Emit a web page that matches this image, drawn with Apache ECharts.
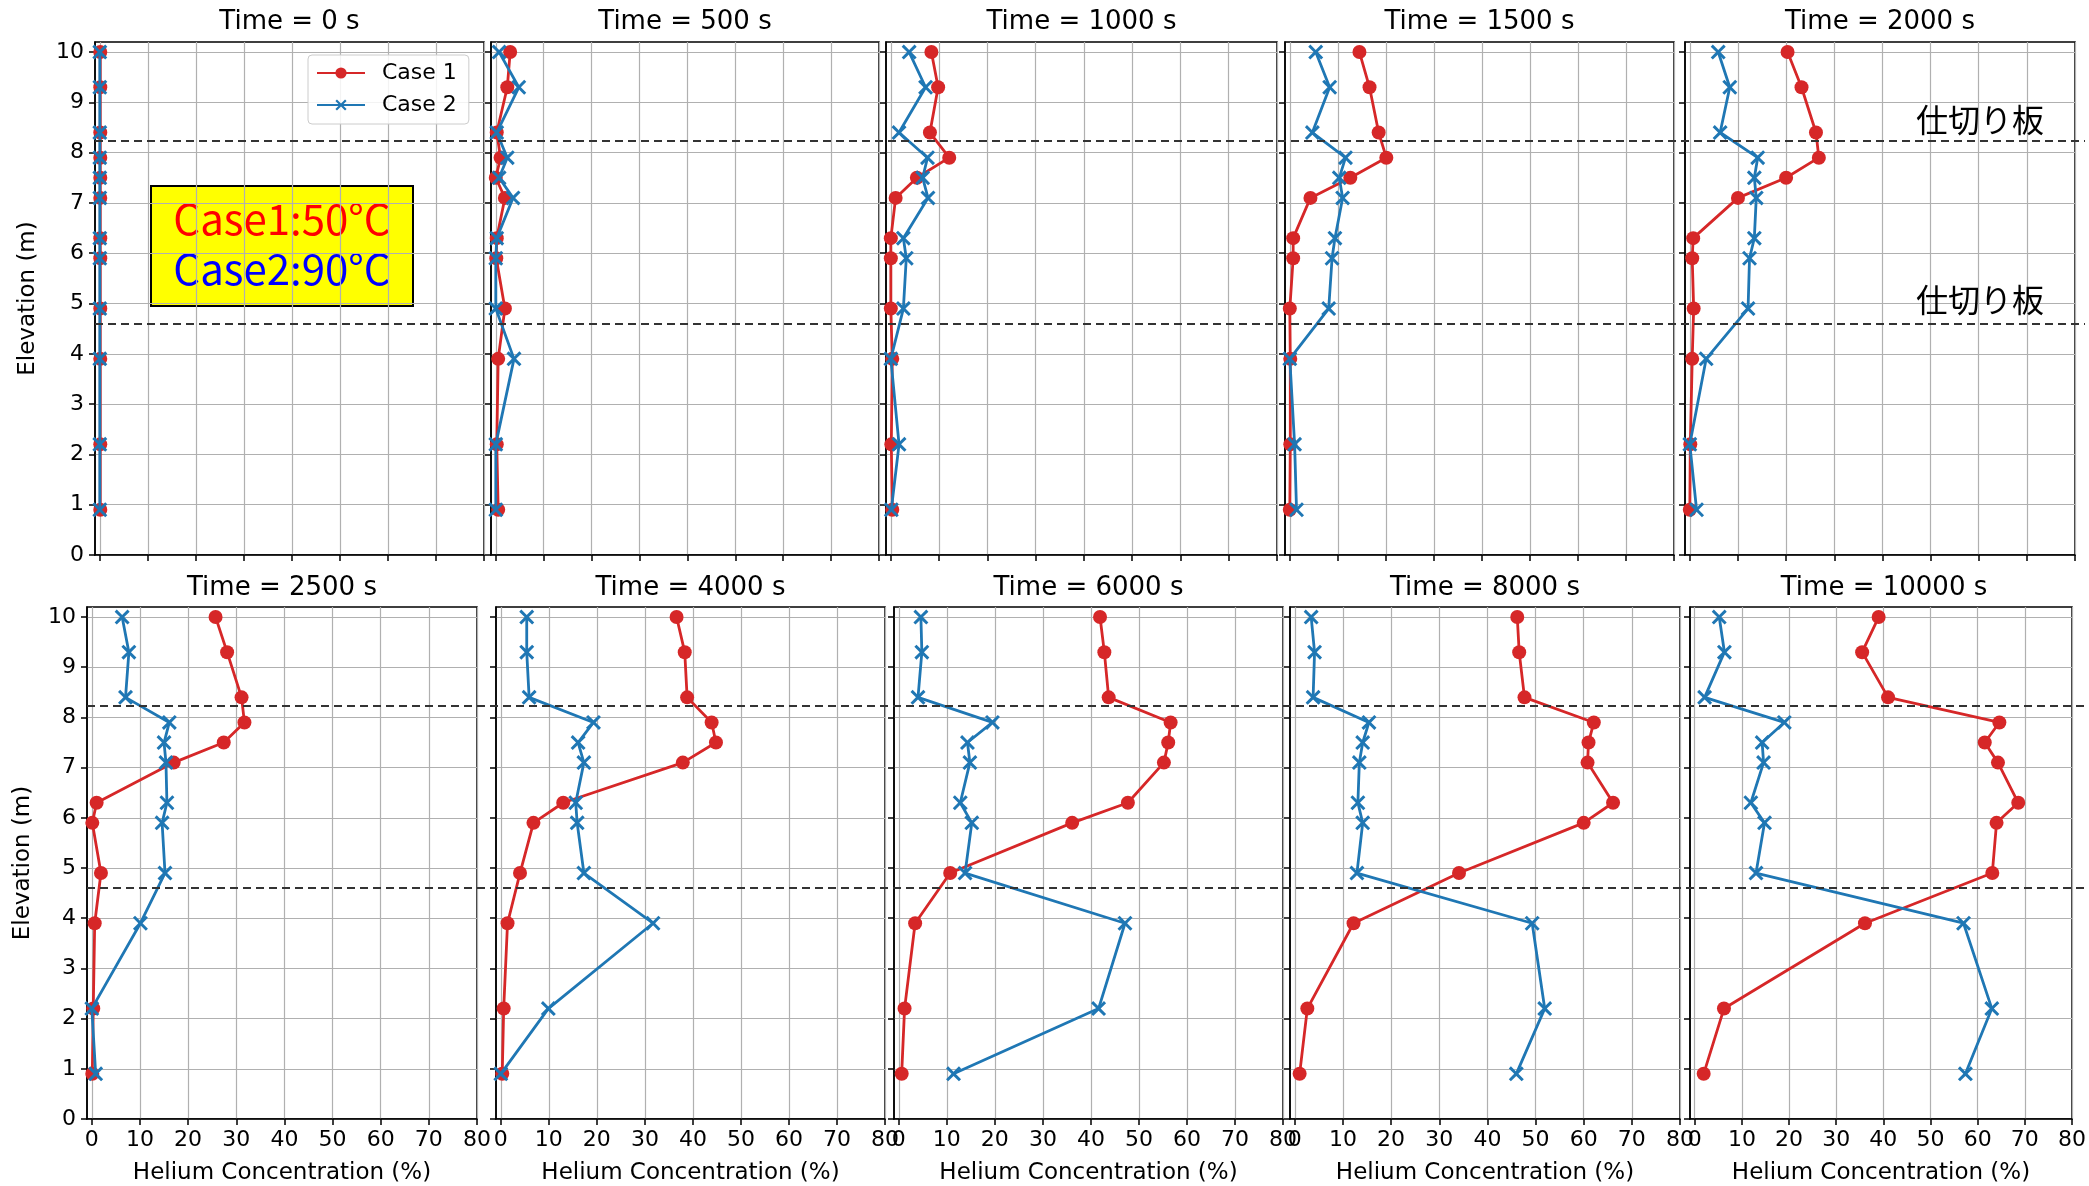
<!DOCTYPE html>
<html>
<head>
<meta charset="utf-8">
<script src="https://cdn.jsdelivr.net/npm/echarts@6/dist/echarts.min.js"></script>
<style>
  html, body { margin: 0; padding: 0; background: #ffffff; }
  #chart { width: 2089px; height: 1186px; }
</style>
</head>
<body>
<div id="chart"></div>
<script>
// Sensor elevations (m), top to bottom
const elevations = [10.0, 9.3, 8.4, 7.9, 7.5, 7.1, 6.3, 5.9, 4.9, 3.9, 2.2, 0.9];
// Elevations of the partition plates (m)
const partitionElevations = [8.24, 4.6];
// Snapshot times (s)
const times = [0, 500, 1000, 1500, 2000, 2500, 4000, 6000, 8000, 10000];
const xTicks = [0, 10, 20, 30, 40, 50, 60, 70, 80];
const yTicks = [0, 1, 2, 3, 4, 5, 6, 7, 8, 9, 10];

// Helium concentration (%) — Case 1 (50°C)
const case1_t0     = [0.1, 0.1, 0.1, 0.1, 0.1, 0.1, 0.1, 0.1, 0.1, 0.1, 0.1, 0.1];
const case1_t500   = [3.0, 2.4, 0.2, 1.0, 0.0, 1.9, 0.2, 0.1, 1.9, 0.5, 0.2, 0.5];
const case1_t1000  = [8.4, 9.8, 8.1, 12.1, 5.4, 1.0, 0.0, 0.0, 0.0, 0.3, 0.1, 0.3];
const case1_t1500  = [14.5, 16.6, 18.5, 20.1, 12.6, 4.3, 0.7, 0.7, 0.0, 0.1, 0.1, 0.0];
const case1_t2000  = [20.3, 23.2, 26.2, 26.8, 20.0, 10.0, 0.7, 0.5, 0.8, 0.5, 0.1, 0.0];
const case1_t2500  = [25.7, 28.1, 31.1, 31.7, 27.4, 17.0, 1.0, 0.1, 1.9, 0.6, 0.3, 0.1];
const case1_t4000  = [36.6, 38.3, 38.8, 43.9, 44.8, 37.9, 13.0, 6.8, 4.0, 1.4, 0.6, 0.3];
const case1_t6000  = [41.9, 42.8, 43.7, 56.6, 56.1, 55.2, 47.7, 36.1, 10.7, 3.4, 1.2, 0.6];
const case1_t8000  = [46.2, 46.6, 47.7, 62.1, 61.0, 60.8, 66.1, 60.0, 34.1, 12.2, 2.6, 1.0];
const case1_t10000 = [39.0, 35.5, 41.0, 64.6, 61.5, 64.3, 68.6, 64.0, 63.1, 36.1, 6.2, 1.9];

// Helium concentration (%) — Case 2 (90°C)
const case2_t0     = [0.0, 0.0, 0.0, 0.0, 0.0, 0.0, 0.0, 0.0, 0.0, 0.0, 0.0, 0.0];
const case2_t500   = [0.7, 4.8, 0.2, 2.4, 0.7, 3.6, 0.2, 0.0, 0.0, 3.8, 0.0, 0.0];
const case2_t1000  = [3.8, 7.2, 1.7, 7.6, 6.6, 7.7, 2.6, 3.2, 2.6, 0.0, 1.7, 0.1];
const case2_t1500  = [5.4, 8.3, 4.7, 11.6, 10.3, 11.0, 9.4, 8.8, 8.1, 0.0, 1.0, 1.4];
const case2_t2000  = [5.9, 8.3, 6.3, 14.1, 13.4, 13.8, 13.4, 12.4, 12.1, 3.4, 0.0, 1.4];
const case2_t2500  = [6.3, 7.7, 7.0, 16.1, 15.0, 15.4, 15.6, 14.6, 15.2, 10.1, 0.0, 0.8];
const case2_t4000  = [5.4, 5.4, 5.9, 19.3, 16.1, 17.3, 15.6, 15.9, 17.3, 31.7, 9.9, 0.0];
const case2_t6000  = [4.6, 4.8, 4.0, 19.5, 14.3, 14.8, 12.8, 15.2, 13.8, 47.1, 41.6, 11.4];
const case2_t8000  = [3.4, 4.1, 3.8, 15.4, 14.1, 13.4, 13.1, 14.1, 12.9, 49.3, 51.9, 46.0];
const case2_t10000 = [5.2, 6.3, 2.1, 19.0, 14.3, 14.6, 11.9, 14.8, 13.0, 57.0, 63.0, 57.4];

const case1Profiles = [case1_t0, case1_t500, case1_t1000, case1_t1500, case1_t2000,
                       case1_t2500, case1_t4000, case1_t6000, case1_t8000, case1_t10000];
const case2Profiles = [case2_t0, case2_t500, case2_t1000, case2_t1500, case2_t2000,
                       case2_t2500, case2_t4000, case2_t6000, case2_t8000, case2_t10000];

// Panel rectangles in pixels: [left, top, width, height]
const panelBoxes = [
  [95, 42, 389, 513], [491, 42, 388, 513], [886, 42, 391, 513], [1285, 42, 389, 513], [1685, 42, 390, 513],
  [87, 607, 390, 512], [496, 607, 389, 512], [894, 607, 389, 512], [1290, 607, 390, 512], [1690, 607, 388, 512]
];

const RED = '#d62728';
const BLUE = '#1f77b4';
const FONT = 'DejaVu Sans';
const CJK = 'Noto Sans CJK JP';
const X_SYMBOL = 'path://M0,1.4L1.4,0L5,3.6L8.6,0L10,1.4L6.4,5L10,8.6L8.6,10L5,6.4L1.4,10L0,8.6L3.6,5Z';

const grids = [], xAxes = [], yAxes = [], series = [], graphics = [];

panelBoxes.forEach((b, i) => {
  const bottomRow = i >= 5;
  const firstCol = i % 5 === 0;
  grids.push({
    left: b[0], top: b[1], width: b[2], height: b[3],
    show: true, borderColor: '#000', borderWidth: 1.5, backgroundColor: 'transparent'
  });
  xAxes.push({
    gridIndex: i, type: 'value', min: -1, max: 80,
    axisLine: { show: true, onZero: false, lineStyle: { color: '#000', width: 1.5 } },
    axisTick: { show: true, length: 6, customValues: xTicks, lineStyle: { color: '#000', width: 1.5 } },
    axisLabel: { show: bottomRow, customValues: xTicks, fontSize: 22, fontFamily: FONT, color: '#000', margin: 10 },
    splitLine: { show: true, lineStyle: { color: '#b0b0b0', width: 1.2 } },
    name: bottomRow ? 'Helium Concentration (%)' : '',
    nameLocation: 'middle', nameGap: 43,
    nameTextStyle: { fontSize: 23, fontFamily: FONT, color: '#000' }
  });
  yAxes.push({
    gridIndex: i, type: 'value', min: 0, max: 10.2,
    axisLine: { show: true, onZero: false, lineStyle: { color: '#000', width: 1.5 } },
    axisTick: { show: true, length: 6, customValues: yTicks, lineStyle: { color: '#000', width: 1.5 } },
    axisLabel: { show: firstCol, customValues: yTicks, fontSize: 22, fontFamily: FONT, color: '#000', margin: 11 },
    splitLine: { show: true, lineStyle: { color: '#b0b0b0', width: 1.2 } },
    name: firstCol ? 'Elevation (m)' : '',
    nameLocation: 'middle', nameRotate: 90, nameGap: bottomRow ? 52 : 55,
    nameTextStyle: { fontSize: 23, fontFamily: FONT, color: '#000' }
  });

  series.push({
    name: 'Case 1', type: 'line', xAxisIndex: i, yAxisIndex: i,
    data: case1Profiles[i].map((c, k) => [c, elevations[k]]),
    symbol: 'circle', symbolSize: 14, z: 3,
    lineStyle: { color: RED, width: 2.8 },
    itemStyle: { color: RED },
    emphasis: { disabled: true }
  });
  series.push({
    name: 'Case 2', type: 'line', xAxisIndex: i, yAxisIndex: i,
    data: case2Profiles[i].map((c, k) => [c, elevations[k]]),
    symbol: X_SYMBOL, symbolSize: 15, z: 4,
    lineStyle: { color: BLUE, width: 2.8 },
    itemStyle: { color: BLUE },
    emphasis: { disabled: true }
  });

  graphics.push({
    type: 'text', z: 50,
    x: b[0] + b[2] / 2, y: bottomRow ? 588 : 22,
    style: { text: 'Time = ' + times[i] + ' s', font: '26px "' + FONT + '"', fill: '#000',
             align: 'center', verticalAlign: 'middle' }
  });
});

// Full-width overlay grids carrying the partition-plate lines for each row
[[95, 42, 1990, 513], [87, 607, 1998, 512]].forEach((b, r) => {
  const idx = panelBoxes.length + r;
  grids.push({ left: b[0], top: b[1], width: b[2], height: b[3], show: false });
  xAxes.push({ gridIndex: idx, type: 'value', min: 0, max: 1, show: false });
  yAxes.push({ gridIndex: idx, type: 'value', min: 0, max: 10.2, show: false });
  series.push({
    type: 'line', xAxisIndex: idx, yAxisIndex: idx, data: [], silent: true, z: 5,
    markLine: {
      silent: true, symbol: 'none', label: { show: false },
      lineStyle: { type: [8, 5], color: '#333', width: 1.8 },
      data: partitionElevations.map(v => ({ yAxis: v }))
    }
  });
});

// Partition-plate labels
graphics.push({
  type: 'text', z: 50, x: 1980, y: 120,
  style: { text: '仕切り板', font: '32px "' + CJK + '"', fill: '#000', align: 'center', verticalAlign: 'middle' }
});
graphics.push({
  type: 'text', z: 50, x: 1980, y: 300,
  style: { text: '仕切り板', font: '32px "' + CJK + '"', fill: '#000', align: 'center', verticalAlign: 'middle' }
});

// Case temperature note
graphics.push({
  type: 'group', x: 151, y: 186, z: 60,
  children: [
    { type: 'rect', shape: { x: 0, y: 0, width: 262, height: 120 },
      style: { fill: '#ffff00', stroke: '#000', lineWidth: 2 } },
    { type: 'text', x: 131, y: 33,
      style: { text: 'Case1:50°C', font: '42px "' + CJK + '"', fill: '#ff0000', align: 'center', verticalAlign: 'middle' } },
    { type: 'text', x: 131, y: 83,
      style: { text: 'Case2:90°C', font: '42px "' + CJK + '"', fill: '#0000ff', align: 'center', verticalAlign: 'middle' } }
  ]
});

const chart = echarts.init(document.getElementById('chart'), null, { renderer: 'canvas' });
chart.setOption({
  backgroundColor: '#ffffff',
  animation: false,
  grid: grids,
  xAxis: xAxes,
  yAxis: yAxes,
  legend: {
    data: ['Case 1', 'Case 2'],
    orient: 'vertical', left: 308, top: 55,
    backgroundColor: 'rgba(255,255,255,0.85)',
    borderColor: '#cccccc', borderWidth: 1, borderRadius: 4,
    padding: [7, 12, 8, 8],
    itemWidth: 48, itemHeight: 14, itemGap: 10,
    textStyle: { fontSize: 22, fontFamily: FONT, color: '#000', padding: [0, 0, 0, 12] },
    selectedMode: false
  },
  graphic: graphics,
  series: series
});
</script>
</body>
</html>
